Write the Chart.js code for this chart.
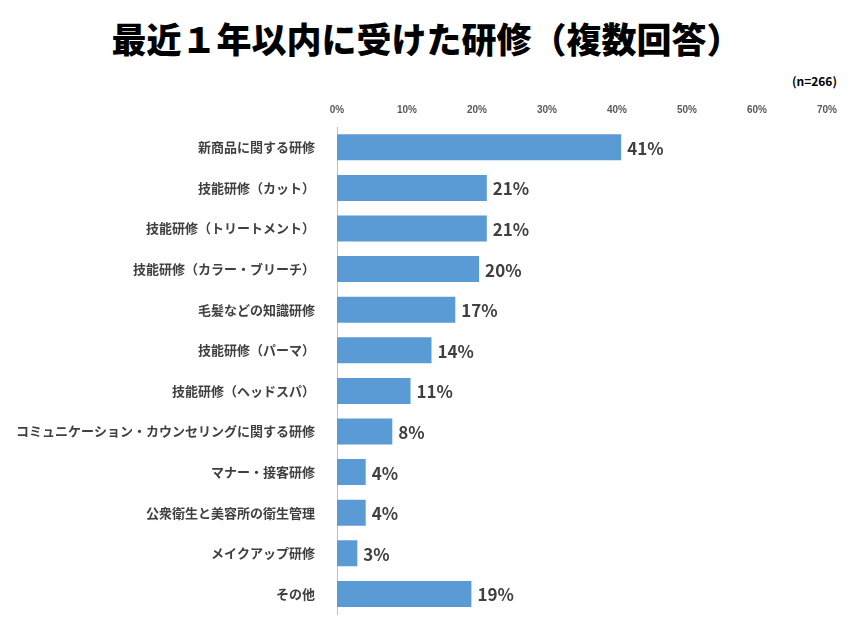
<!DOCTYPE html>
<html>
<head>
<meta charset="utf-8">
<script src="https://cdn.jsdelivr.net/npm/chart.js@4"></script>
<style>
body { margin: 0; background: #fff; font-family: "Noto Sans CJK JP", sans-serif; }
#wrap { position: relative; width: 853px; height: 640px; }
h1 { position: absolute; top: 12px; left: 0; width: 853px; margin: 0; text-align: center; font-size: 35px; font-weight: 900; color: #000; }
#n { position: absolute; top: 72px; right: 16px; font-size: 12px; font-weight: bold; color: #000; }
#c { position: absolute; left: 0; top: 101px; }
</style>
</head>
<body>
<div id="wrap">
<h1>最近１年以内に受けた研修（複数回答）</h1>
<div id="n">(n=266)</div>
<canvas id="c" width="853" height="535"></canvas>
</div>
<script>
const categorias = ['新商品に関する研修', '技能研修（カット）', '技能研修（トリートメント）', '技能研修（カラー・ブリーチ）',
    '毛髪などの知識研修', '技能研修（パーマ）', '技能研修（ヘッドスパ）', 'コミュニケーション・カウンセリングに関する研修',
    'マナー・接客研修', '公衆衛生と美容所の衛生管理', 'メイクアップ研修', 'その他'];
const valores = [40.6, 21.4, 21.4, 20.3, 16.9, 13.5, 10.5, 7.9, 4.1, 4.1, 2.9, 19.2];
const etiquetas = ['41%', '21%', '21%', '20%', '17%', '14%', '11%', '8%', '4%', '4%', '3%', '19%'];

const etiquetasPlugin = {
    id: 'etiquetas',
    afterDatasetsDraw(chart) {
        const ctx = chart.ctx;
        const meta = chart.getDatasetMeta(0);
        ctx.save();
        ctx.font = 'bold 17px "Noto Sans CJK JP"';
        ctx.fillStyle = '#404040';
        ctx.textBaseline = 'middle';
        meta.data.forEach((bar, i) => {
            ctx.fillText(etiquetas[i], bar.x + 6, bar.y + 1);
        });
        ctx.restore();
    }
};

new Chart(document.getElementById('c'), {
    type: 'bar',
    data: {
        labels: categorias,
        datasets: [{ data: valores, backgroundColor: '#5b9bd5', barPercentage: 0.64, categoryPercentage: 1 }]
    },
    options: {
        indexAxis: 'y',
        responsive: false,
        animation: false,
        layout: { padding: { left: 0, right: 26, bottom: 4 } },
        plugins: { legend: { display: false }, tooltip: { enabled: false } },
        scales: {
            x: {
                position: 'top', min: 0, max: 70,
                ticks: { stepSize: 10, callback: v => v + '%', color: '#595959', font: { size: 10, weight: 'bold' } },
                grid: { display: false },
                border: { display: false }
            },
            y: {
                afterFit: s => { s.width = 337; },
                ticks: { color: '#404040', font: { size: 13, weight: 'bold', family: '"Noto Sans CJK JP"' }, padding: 14 },
                grid: { display: false },
                border: { color: '#bfbfbf' }
            }
        }
    },
    plugins: [etiquetasPlugin]
});
</script>
</body>
</html>
